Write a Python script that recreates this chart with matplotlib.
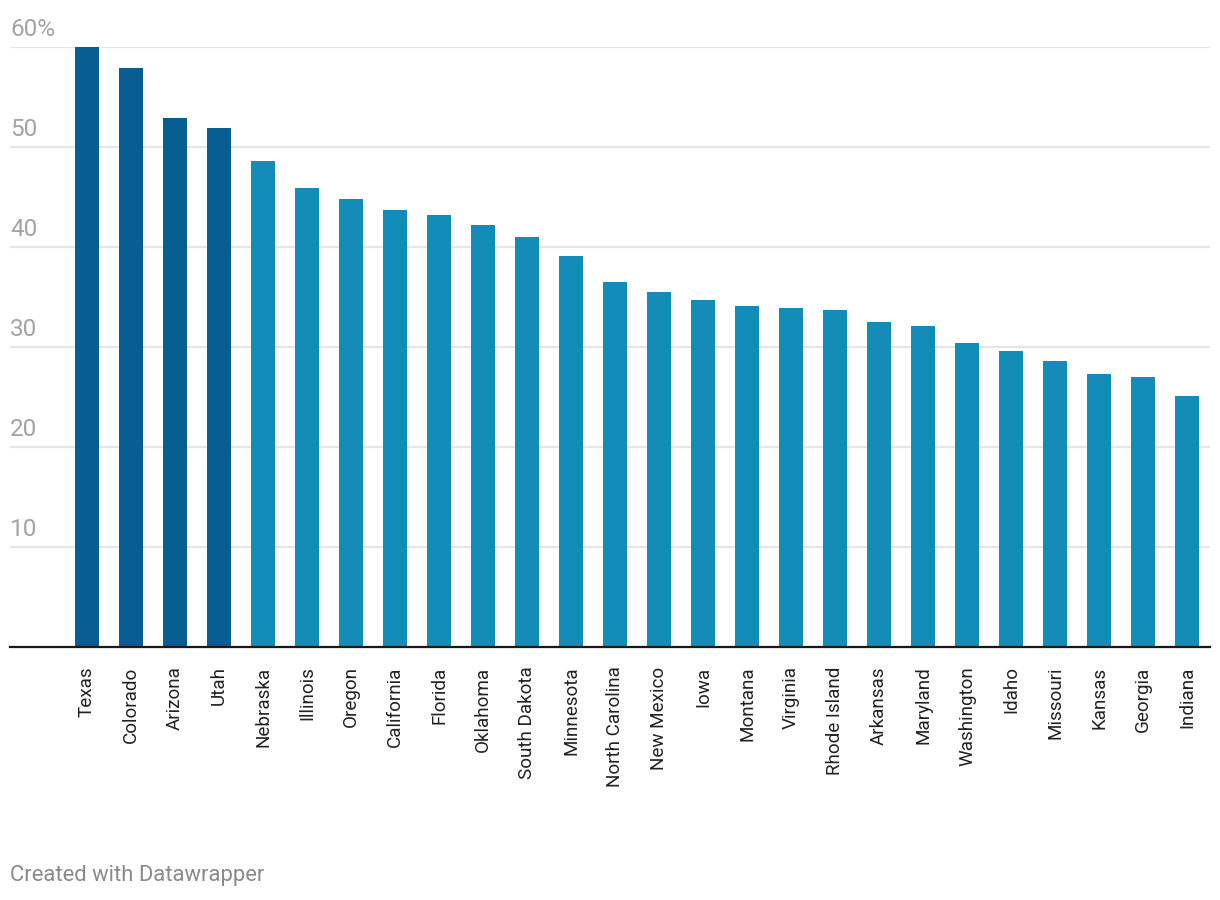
import matplotlib.pyplot as plt
from matplotlib import transforms

plt.rcParams['font.family'] = ['Roboto', 'DejaVu Sans']

states = ["Texas", "Colorado", "Arizona", "Utah", "Nebraska", "Illinois", "Oregon",
          "California", "Florida", "Oklahoma", "South Dakota", "Minnesota",
          "North Carolina", "New Mexico", "Iowa", "Montana", "Virginia",
          "Rhode Island", "Arkansas", "Maryland", "Washington", "Idaho",
          "Missouri", "Kansas", "Georgia", "Indiana"]
values = [60.0, 57.9, 52.9, 51.9, 48.6, 45.9, 44.8, 43.7, 43.2, 42.2, 41.0, 39.1,
          36.5, 35.5, 34.7, 34.1, 33.9, 33.7, 32.5, 32.1, 30.4, 29.6, 28.6, 27.3,
          27.0, 25.1]
highlight = ["Texas", "Colorado", "Arizona", "Utah"]
yticks = [10, 20, 30, 40, 50, 60]
ytick_labels = ["10", "20", "30", "40", "50", "60%"]

dark = "#095e91"
light = "#148cb8"

fig = plt.figure(figsize=(12.2, 9), dpi=100)
ax = fig.add_axes([10 / 1220, 1 - 647 / 900, 1200 / 1220, 600 / 900])

x = list(range(len(states)))
colors = [dark if s in highlight else light for s in states]
ax.bar(x, values, width=0.55, color=colors, zorder=2, clip_on=False)

ax.set_xlim(-1.75, 25.52)
ax.set_ylim(0, 60)

# gridlines + labels sitting on top of them, datawrapper style
trans = transforms.blended_transform_factory(ax.transAxes, ax.transData)
for t, lab in zip(yticks, ytick_labels):
    ax.axhline(t, color="#e5e5e5", lw=1.5, zorder=1)
    ax.text(0, t, lab, transform=trans + transforms.ScaledTranslation(0, 4 / 72, fig.dpi_scale_trans),
            ha="left", va="bottom", fontsize=17.5, color="#a3a3a3")
ax.axhline(0, color="#1a1a1a", lw=1.6, zorder=3, clip_on=False)

ax.set_yticks([])
ax.set_xticks(x)
ax.set_xticklabels(states, rotation=90, fontsize=13.6, color="#222222", va="top")
ax.tick_params(axis="x", length=0, pad=14)
for sp in ax.spines.values():
    sp.set_visible(False)

fig.text(10 / 1220, 1 - 876 / 900, "Created with Datawrapper", ha="left", va="center",
         fontsize=15.8, color="#8a8a8a")

fig.savefig("out.png", dpi=100)
